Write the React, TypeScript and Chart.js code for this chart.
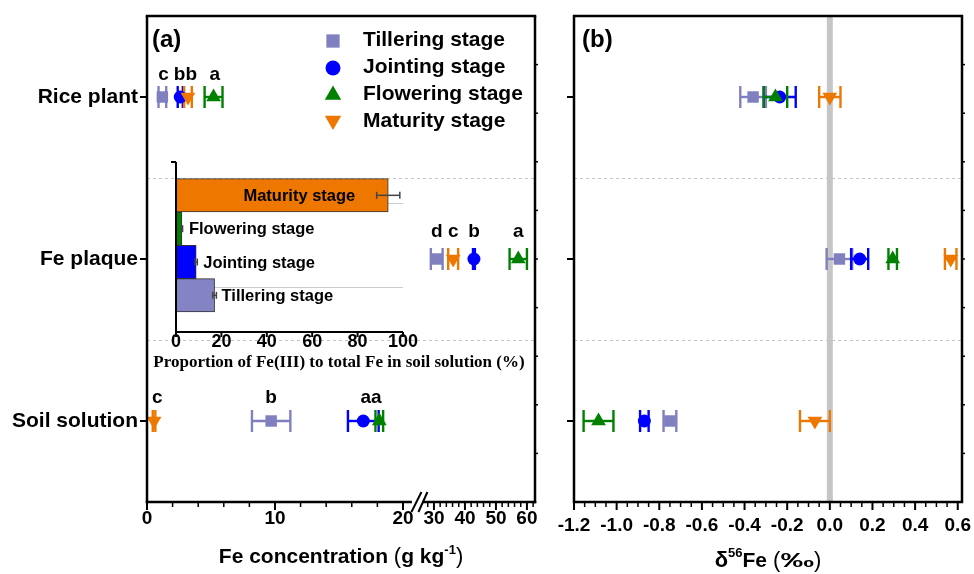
import React, { useEffect, useRef } from 'react';
import { Chart, registerables } from 'chart.js';

Chart.register(...registerables);

const SANS = "'Liberation Sans', Arial, Helvetica, sans-serif";
const SERIF = "'Liberation Serif', 'Times New Roman', Times, serif";
Chart.defaults.font.family = SANS;
Chart.defaults.color = '#000';

// ---------------- data ----------------
const categoryNames = ['Soil solution', 'Fe plaque', 'Rice plant']; // y = 1, 2, 3
const categoryY = [1, 2, 3];
const stageNames = ['Tillering stage', 'Jointing stage', 'Flowering stage', 'Maturity stage'];

// Fe concentration (g kg-1): soil solution, Fe plaque, rice plant
const feTillering = [9.7, 30.9, 1.2];
const feTilleringSd = [1.5, 1.9, 0.3];
const feJointing = [16.9, 42.9, 2.6];
const feJointingSd = [1.2, 0.3, 0.2];
const feFlowering = [18.15, 57.2, 5.2];
const feFloweringSd = [0.3, 2.8, 0.7];
const feMaturity = [0.55, 36.2, 3.2];
const feMaturitySd = [0.1, 1.6, 0.3];

// δ56Fe (‰): soil solution, Fe plaque, rice plant
const dTillering = [-0.75, 0.045, -0.36];
const dTilleringSd = [0.03, 0.06, 0.06];
const dJointing = [-0.87, 0.14, -0.235];
const dJointingSd = [0.02, 0.04, 0.075];
const dFlowering = [-1.085, 0.295, -0.255];
const dFloweringSd = [0.07, 0.02, 0.055];
const dMaturity = [-0.07, 0.567, 0.0];
const dMaturitySd = [0.07, 0.027, 0.05];

// significance letters (x in g kg-1)
const soilLetters = ['c', 'b', 'aa'];
const soilLetterX = [0.8, 9.7, 17.5];
const plaqueLetters = ['d', 'c', 'b', 'a'];
const plaqueLetterX = [30.9, 36.2, 42.9, 57.2];
const riceLetters = ['c', 'bb', 'a'];
const riceLetterX = [1.3, 3.0, 5.3];

// inset: proportion of Fe(III) to total Fe in soil solution (%)
const insetStages = ['Tillering stage', 'Jointing stage', 'Flowering stage', 'Maturity stage'];
const insetPos = [1, 2, 3, 4];
const fe3Proportion = [17.0, 8.9, 2.6, 93.5];
const fe3ProportionSd = [0.8, 0.5, 0.3, 5.1];

// tick labels
const feMajorTicks = [0, 10, 20, 30, 40, 50, 60];
const deltaMajorTicks = [-1.2, -1.0, -0.8, -0.6, -0.4, -0.2, 0.0, 0.2, 0.4, 0.6];
const insetTicks = [0, 20, 40, 60, 80, 100];

// ---------------- styles ----------------
const stageStyles = [
  { color: '#8080C0', pointStyle: 'rect', rotation: 0, radius: 8.1, order: 3, legendR: 9.4 },
  { color: '#0000FF', pointStyle: 'circle', rotation: 0, radius: 6.5, order: 2, legendR: 7.5 },
  { color: '#008000', pointStyle: 'triangle', rotation: 0, radius: 8.5, order: 1, legendR: 9.5 },
  { color: '#EE7700', pointStyle: 'triangle', rotation: 180, radius: 8.5, order: 0, legendR: 9.5 },
];
const insetColors = ['#8484C4', '#0000FF', '#008000', '#EE7700'];

// broken Fe axis: 0..~20.7 linear, then 26.5..62.6 compressed
const SEG2_ORIGIN = 22.42;
const SEG2_SCALE = 0.2422;
function tx(v: number) {
  return v <= 21 ? v : SEG2_ORIGIN + (v - 30) * SEG2_SCALE;
}
const ident = (v: number) => v;

function seg(ctx: any, x1: number, y1: number, x2: number, y2: number) {
  ctx.beginPath();
  ctx.moveTo(x1, y1);
  ctx.lineTo(x2, y2);
  ctx.stroke();
}

function drawMarker(ctx: any, style: string, rotation: number, cx: number, cy: number, r: number, color: string) {
  ctx.fillStyle = color;
  ctx.beginPath();
  if (style === 'rect') {
    const s = r * Math.SQRT1_2;
    ctx.rect(cx - s, cy - s, 2 * s, 2 * s);
  } else if (style === 'circle') {
    ctx.arc(cx, cy, r, 0, Math.PI * 2);
  } else {
    let rad = (rotation * Math.PI) / 180;
    ctx.moveTo(cx + Math.sin(rad) * r, cy - Math.cos(rad) * r);
    for (let k = 0; k < 2; k++) {
      rad += (2 * Math.PI) / 3;
      ctx.lineTo(cx + Math.sin(rad) * r, cy - Math.cos(rad) * r);
    }
    ctx.closePath();
  }
  ctx.fill();
}

function drawRich(ctx: any, parts: any[], cx: number, baseline: number) {
  let total = 0;
  parts.forEach((p) => {
    ctx.font = p.font;
    total += ctx.measureText(p.t).width * (p.sx || 1);
  });
  let xx = cx - total / 2;
  ctx.textAlign = 'left';
  ctx.textBaseline = 'alphabetic';
  ctx.fillStyle = '#000';
  parts.forEach((p) => {
    ctx.font = p.font;
    const w = ctx.measureText(p.t).width * (p.sx || 1);
    ctx.save();
    ctx.translate(xx, baseline + (p.dy || 0));
    ctx.scale(p.sx || 1, 1);
    ctx.fillText(p.t, 0, 0);
    ctx.restore();
    xx += w;
  });
}

function buildDatasets(values: number[][], sds: number[][], f: (v: number) => number) {
  return values.map((vals, s) => ({
    label: stageNames[s],
    data: vals.map((v, i) => ({ x: f(v), y: categoryY[i] })),
    raw: vals,
    sd: sds[s],
    pointStyle: stageStyles[s].pointStyle,
    pointRotation: stageStyles[s].rotation,
    pointRadius: stageStyles[s].radius,
    pointBackgroundColor: stageStyles[s].color,
    pointBorderColor: stageStyles[s].color,
    pointBorderWidth: 0,
    backgroundColor: stageStyles[s].color,
    borderColor: stageStyles[s].color,
    showLine: false,
    order: stageStyles[s].order,
  }));
}

function drawErrorBars(chart: any, f: (v: number) => number) {
  const { ctx } = chart;
  const xs = chart.scales.x;
  const ys = chart.scales.y;
  ctx.save();
  ctx.lineWidth = 2.4;
  const dss = chart.data.datasets.slice().sort((a: any, b: any) => b.order - a.order);
  dss.forEach((ds: any) => {
    ctx.strokeStyle = ds.borderColor;
    ds.raw.forEach((v: number, i: number) => {
      const e = ds.sd[i];
      const x1 = xs.getPixelForValue(f(v - e));
      const x2 = xs.getPixelForValue(f(v + e));
      const py = ys.getPixelForValue(categoryY[i]);
      seg(ctx, x1, py, x2, py);
      seg(ctx, x1, py - 11, x1, py + 11);
      seg(ctx, x2, py - 11, x2, py + 11);
    });
  });
  ctx.restore();
}

function drawDashedRows(chart: any) {
  const { ctx, chartArea: a } = chart;
  const ys = chart.scales.y;
  ctx.save();
  ctx.strokeStyle = '#c4c4c4';
  ctx.lineWidth = 1;
  ctx.setLineDash([3, 3]);
  [1.5, 2.5].forEach((v) => {
    const py = Math.round(ys.getPixelForValue(v)) + 0.5;
    seg(ctx, a.left, py, a.right, py);
  });
  ctx.restore();
}

function drawYTicks(chart: any, withRightMinor: boolean) {
  const { ctx, chartArea: a } = chart;
  const ys = chart.scales.y;
  ctx.strokeStyle = '#000';
  ctx.lineWidth = 2;
  categoryY.forEach((v) => {
    const py = ys.getPixelForValue(v);
    seg(ctx, a.left - 7, py, a.left, py);
  });
  if (withRightMinor) {
    ctx.lineWidth = 1.5;
    for (let k = 1; k < 10; k++) {
      const py = ys.getPixelForValue(0.5 + k * 0.3);
      seg(ctx, a.right, py, a.right + 3, py);
    }
  }
}

function drawLetters(chart: any) {
  const { ctx } = chart;
  const xs = chart.scales.x;
  const ys = chart.scales.y;
  ctx.fillStyle = '#000';
  ctx.font = `bold 19px ${SANS}`;
  ctx.textAlign = 'center';
  ctx.textBaseline = 'alphabetic';
  const groups = [
    { letters: soilLetters, xs: soilLetterX, y: 1, off: -18 },
    { letters: plaqueLetters, xs: plaqueLetterX, y: 2, off: -22 },
    { letters: riceLetters, xs: riceLetterX, y: 3, off: -17 },
  ];
  groups.forEach((g) => {
    const py = ys.getPixelForValue(g.y) + g.off;
    g.letters.forEach((t, i) => ctx.fillText(t, xs.getPixelForValue(tx(g.xs[i])), py));
  });
}

function drawLegend(ctx: any) {
  const rows = [40, 67, 94, 121.5];
  stageNames.forEach((name, i) => {
    const st = stageStyles[i];
    drawMarker(ctx, st.pointStyle, st.rotation, 333, rows[i] + (st.rotation ? -1 : 1), st.legendR, st.color);
    ctx.fillStyle = '#000';
    ctx.font = `bold 21px ${SANS}`;
    ctx.textAlign = 'left';
    ctx.textBaseline = 'middle';
    ctx.fillText(name, 363, rows[i]);
  });
}

const zeroPad = (s: any) => {
  s.paddingLeft = 0;
  s.paddingRight = 0;
  s.paddingTop = 0;
  s.paddingBottom = 0;
};

const leftDecor = {
  id: 'leftDecor',
  beforeDatasetsDraw(chart: any) {
    drawDashedRows(chart);
    drawErrorBars(chart, tx);
  },
  afterDraw(chart: any) {
    const { ctx, chartArea: a } = chart;
    const xs = chart.scales.x;
    ctx.save();
    ctx.strokeStyle = '#000';
    ctx.lineWidth = 2.5;
    seg(ctx, a.left, a.top, a.left, a.bottom + 1.25);
    seg(ctx, a.left - 1.25, a.top, a.right + 1.25, a.top);
    seg(ctx, a.right, a.top, a.right, a.bottom + 1.25);
    const bEnd = xs.getPixelForValue(tx(20.7));
    const bStart = xs.getPixelForValue(tx(26.3));
    seg(ctx, a.left - 1.25, a.bottom, bEnd, a.bottom);
    seg(ctx, bStart, a.bottom, a.right + 1.25, a.bottom);
    ctx.lineWidth = 2;
    seg(ctx, bEnd - 0.5, a.bottom + 10, bEnd + 9.5, a.bottom - 10);
    seg(ctx, bEnd + 6.5, a.bottom + 10, bEnd + 15.5, a.bottom - 10);
    // x ticks
    const minor: number[] = [];
    for (let v = 0; v <= 20; v += 2) minor.push(v);
    for (let v = 28; v <= 62; v += 2) minor.push(v);
    minor.forEach((v) => {
      const major = feMajorTicks.indexOf(v) >= 0;
      const px = xs.getPixelForValue(tx(v));
      ctx.lineWidth = major ? 2 : 1.5;
      seg(ctx, px, a.bottom, px, a.bottom + (major ? 8 : 5));
    });
    drawYTicks(chart, true);
    drawLetters(chart);
    drawLegend(ctx);
    ctx.fillStyle = '#000';
    ctx.font = `bold 24px ${SANS}`;
    ctx.textAlign = 'left';
    ctx.textBaseline = 'middle';
    ctx.fillText('(a)', a.left + 5, 40);
    drawRich(
      ctx,
      [
        { t: 'Fe concentration ', font: `bold 21px ${SANS}` },
        { t: '(', font: `22px ${SANS}` },
        { t: 'g kg', font: `bold 21px ${SANS}` },
        { t: '-1', font: `bold 13px ${SANS}`, dy: -9 },
        { t: ')', font: `22px ${SANS}` },
      ],
      (a.left + a.right) / 2,
      563
    );
    ctx.restore();
  },
};

const rightDecor = {
  id: 'rightDecor',
  beforeDatasetsDraw(chart: any) {
    const { ctx, chartArea: a } = chart;
    const xs = chart.scales.x;
    drawDashedRows(chart);
    ctx.save();
    ctx.fillStyle = '#c6c6c6';
    const z = xs.getPixelForValue(0);
    ctx.fillRect(z - 3, a.top, 6, a.bottom - a.top);
    ctx.restore();
    drawErrorBars(chart, ident);
  },
  afterDraw(chart: any) {
    const { ctx, chartArea: a } = chart;
    const xs = chart.scales.x;
    ctx.save();
    ctx.strokeStyle = '#000';
    ctx.lineWidth = 2.5;
    ctx.strokeRect(a.left, a.top, a.right - a.left, a.bottom - a.top);
    for (let k = -24; k <= 12; k++) {
      const major = k % 4 === 0;
      const px = xs.getPixelForValue(k * 0.05);
      ctx.lineWidth = major ? 2 : 1.5;
      seg(ctx, px, a.bottom, px, a.bottom + (major ? 8 : 5));
    }
    drawYTicks(chart, true);
    ctx.fillStyle = '#000';
    ctx.font = `bold 24px ${SANS}`;
    ctx.textAlign = 'left';
    ctx.textBaseline = 'middle';
    ctx.fillText('(b)', a.left + 8, 40);
    drawRich(
      ctx,
      [
        { t: 'δ', font: `bold 22px ${SANS}` },
        { t: '56', font: `bold 13px ${SANS}`, dy: -10 },
        { t: 'Fe', font: `bold 21px ${SANS}` },
        { t: ' (', font: `22px ${SANS}` },
        { t: '‰', font: `bold 21px ${SANS}`, sx: 1.6 },
        { t: ')', font: `22px ${SANS}` },
      ],
      (a.left + a.right) / 2,
      567
    );
    ctx.restore();
  },
};

const insetDecor = {
  id: 'insetDecor',
  beforeDatasetsDraw(chart: any) {
    const { ctx, chartArea: a } = chart;
    const ys = chart.scales.y;
    ctx.save();
    ctx.strokeStyle = '#cccccc';
    ctx.lineWidth = 1;
    [1.25, 3.77].forEach((v) => {
      const py = Math.round(ys.getPixelForValue(v)) + 0.5;
      seg(ctx, a.left, py, a.right, py);
    });
    ctx.restore();
  },
  afterDatasetsDraw(chart: any) {
    const { ctx } = chart;
    const xs = chart.scales.x;
    const ys = chart.scales.y;
    ctx.save();
    ctx.strokeStyle = '#444';
    ctx.lineWidth = 1.5;
    insetPos.forEach((p, i) => {
      const py = ys.getPixelForValue(p);
      const x1 = xs.getPixelForValue(fe3Proportion[i] - fe3ProportionSd[i]);
      const x2 = xs.getPixelForValue(fe3Proportion[i] + fe3ProportionSd[i]);
      seg(ctx, x1, py, x2, py);
      seg(ctx, x1, py - 3.5, x1, py + 3.5);
      seg(ctx, x2, py - 3.5, x2, py + 3.5);
    });
    ctx.fillStyle = '#000';
    ctx.font = `bold 16.5px ${SANS}`;
    ctx.textBaseline = 'middle';
    insetPos.forEach((p, i) => {
      const py = ys.getPixelForValue(p) + 1;
      const end = xs.getPixelForValue(fe3Proportion[i]);
      if (fe3Proportion[i] > 50) {
        ctx.textAlign = 'right';
        ctx.fillText(insetStages[i], end - 33, py);
      } else {
        ctx.textAlign = 'left';
        ctx.fillText(insetStages[i], end + 7, py);
      }
    });
    ctx.restore();
  },
  afterDraw(chart: any) {
    const { ctx, chartArea: a } = chart;
    const xs = chart.scales.x;
    ctx.save();
    ctx.strokeStyle = '#000';
    ctx.lineWidth = 2;
    seg(ctx, a.left, a.top, a.left, a.bottom + 1);
    seg(ctx, a.left - 1, a.bottom, a.right, a.bottom);
    seg(ctx, a.left - 5, a.top, a.left, a.top);
    insetTicks.forEach((v) => {
      const px = xs.getPixelForValue(v);
      seg(ctx, px, a.bottom, px, a.bottom + 5);
    });
    ctx.fillStyle = '#000';
    ctx.font = `bold 17px ${SERIF}`;
    ctx.textAlign = 'center';
    ctx.textBaseline = 'alphabetic';
    ctx.fillText('Proportion of Fe(III) to total Fe in soil solution (%)', 189, 216.5);
    ctx.restore();
  },
};

function leftConfig(): any {
  return {
    type: 'scatter',
    data: {
      datasets: buildDatasets(
        [feTillering, feJointing, feFlowering, feMaturity],
        [feTilleringSd, feJointingSd, feFloweringSd, feMaturitySd],
        tx
      ),
    },
    options: {
      responsive: false,
      animation: false,
      events: [],
      layout: { padding: { top: 16, right: 25, left: 0, bottom: 0 } },
      plugins: { legend: { display: false }, tooltip: { enabled: false } },
      scales: {
        x: {
          type: 'linear',
          min: 0,
          max: tx(62.6),
          afterBuildTicks: (s: any) => {
            s.ticks = feMajorTicks.map((v) => ({ value: tx(v) }));
          },
          ticks: {
            callback: (_v: any, i: number) => String(feMajorTicks[i]),
            font: { size: 19, weight: 'bold', lineHeight: 1 },
            color: '#000',
            padding: 7,
            autoSkip: false,
            maxRotation: 0,
          },
          grid: { display: false, drawTicks: false },
          border: { display: false },
          afterFit: (s: any) => {
            s.height = 72;
            zeroPad(s);
          },
        },
        y: {
          type: 'linear',
          min: 0.5,
          max: 3.5,
          afterBuildTicks: (s: any) => {
            s.ticks = categoryY.map((v) => ({ value: v }));
          },
          ticks: {
            callback: (_v: any, i: number) => categoryNames[i],
            font: { size: 21, weight: 'bold', lineHeight: 1 },
            color: '#000',
            padding: 9,
            autoSkip: false,
          },
          grid: { display: false, drawTicks: false },
          border: { display: false },
          afterFit: (s: any) => {
            s.width = 147;
            zeroPad(s);
          },
        },
      },
    },
    plugins: [leftDecor],
  };
}

function rightConfig(): any {
  return {
    type: 'scatter',
    data: {
      datasets: buildDatasets(
        [dTillering, dJointing, dFlowering, dMaturity],
        [dTilleringSd, dJointingSd, dFloweringSd, dMaturitySd],
        ident
      ),
    },
    options: {
      responsive: false,
      animation: false,
      events: [],
      layout: { padding: { top: 16, right: 12, left: 0, bottom: 0 } },
      plugins: { legend: { display: false }, tooltip: { enabled: false } },
      scales: {
        x: {
          type: 'linear',
          min: -1.2,
          max: 0.62,
          afterBuildTicks: (s: any) => {
            s.ticks = deltaMajorTicks.map((v) => ({ value: v }));
          },
          ticks: {
            callback: (_v: any, i: number) => deltaMajorTicks[i].toFixed(1),
            font: { size: 19, weight: 'bold', lineHeight: 1 },
            color: '#000',
            padding: 14,
            autoSkip: false,
            maxRotation: 0,
          },
          grid: { display: false, drawTicks: false },
          border: { display: false },
          afterFit: (s: any) => {
            s.height = 72;
            zeroPad(s);
          },
        },
        y: {
          type: 'linear',
          min: 0.5,
          max: 3.5,
          afterBuildTicks: (s: any) => {
            s.ticks = categoryY.map((v) => ({ value: v }));
          },
          ticks: { display: false },
          grid: { display: false, drawTicks: false },
          border: { display: false },
          afterFit: (s: any) => {
            s.width = 24;
            zeroPad(s);
          },
        },
      },
    },
    plugins: [rightDecor],
  };
}

function insetConfig(): any {
  return {
    type: 'bar',
    data: {
      datasets: [
        {
          data: insetPos.map((p, i) => ({ x: fe3Proportion[i], y: p })),
          backgroundColor: insetColors,
          borderColor: '#333',
          borderWidth: 1,
          borderSkipped: false,
          barPercentage: 1,
          categoryPercentage: 1,
        },
      ],
    },
    options: {
      indexAxis: 'y',
      responsive: false,
      animation: false,
      events: [],
      layout: { padding: { top: 12, right: 127, left: 0, bottom: 0 } },
      plugins: { legend: { display: false }, tooltip: { enabled: false } },
      scales: {
        x: {
          type: 'linear',
          min: 0,
          max: 100,
          offset: false,
          afterBuildTicks: (s: any) => {
            s.ticks = insetTicks.map((v) => ({ value: v }));
          },
          ticks: {
            callback: (_v: any, i: number) => String(insetTicks[i]),
            font: { size: 18, weight: 'bold', lineHeight: 1 },
            color: '#000',
            padding: 1.5,
            autoSkip: false,
            maxRotation: 0,
          },
          grid: { display: false, drawTicks: false, offset: false },
          border: { display: false },
          afterFit: (s: any) => {
            s.height = 48;
            zeroPad(s);
          },
        },
        y: {
          type: 'linear',
          min: -0.1,
          max: 5.0,
          offset: false,
          afterBuildTicks: (s: any) => {
            s.ticks = insetPos.map((v) => ({ value: v }));
          },
          ticks: { display: false },
          grid: { display: false, drawTicks: false, offset: false },
          border: { display: false },
          afterFit: (s: any) => {
            s.width = 26;
            zeroPad(s);
          },
        },
      },
    },
    plugins: [insetDecor],
  };
}

export default function App() {
  const leftRef = useRef<HTMLCanvasElement>(null);
  const rightRef = useRef<HTMLCanvasElement>(null);
  const insetRef = useRef<HTMLCanvasElement>(null);

  useEffect(() => {
    const charts = [
      new Chart(leftRef.current as any, leftConfig()),
      new Chart(rightRef.current as any, rightConfig()),
      new Chart(insetRef.current as any, insetConfig()),
    ];
    return () => charts.forEach((c) => c.destroy());
  }, []);

  return (
    <div style={{ position: 'absolute', left: 0, top: 0, width: 974, height: 574, background: '#fff', overflow: 'hidden' }}>
      <canvas ref={leftRef} width={560} height={574} style={{ position: 'absolute', left: 0, top: 0, width: 560, height: 574 }} />
      <canvas ref={rightRef} width={424} height={574} style={{ position: 'absolute', left: 550, top: 0, width: 424, height: 574 }} />
      <canvas ref={insetRef} width={380} height={230} style={{ position: 'absolute', left: 150, top: 150, width: 380, height: 230 }} />
    </div>
  );
}
